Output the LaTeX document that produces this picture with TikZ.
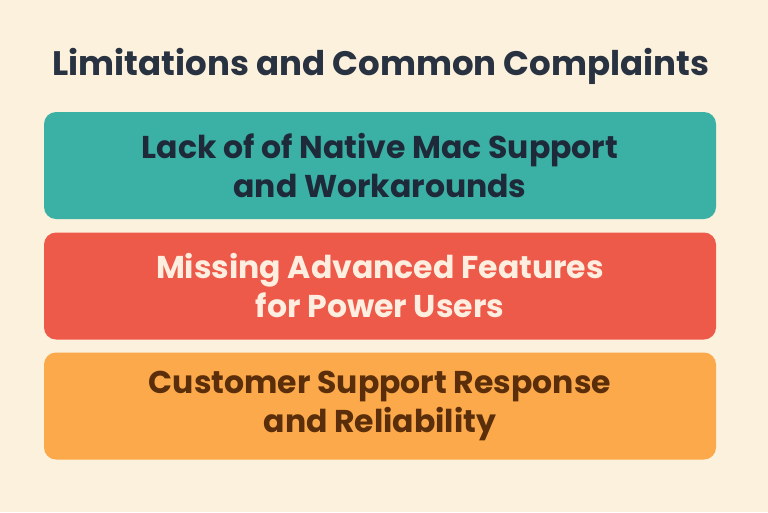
\documentclass[tikz,border=0pt]{standalone}
\usepackage{fontspec}
\setmainfont{Poppins}
\usetikzlibrary{positioning}
\definecolor{bgcream}{HTML}{FCF1DC}
\definecolor{teal}{HTML}{3BB0A5}
\definecolor{coral}{HTML}{EE5A4A}
\definecolor{amber}{HTML}{FBA94A}
\definecolor{navy}{HTML}{1E2A3A}
\definecolor{brown}{HTML}{5A2E0A}
\definecolor{cream}{HTML}{FDEEE0}
\tikzset{
  band/.style={rounded corners=12pt, minimum width=672pt, minimum height=107pt,
    align=center, font=\fontsize{31.5}{39}\selectfont\bfseries, inner sep=0pt}
}
\begin{document}
\begin{tikzpicture}[x=1pt,y=-1pt]
\path[fill=bgcream] (0,0) rectangle (768,512);
\useasboundingbox (0,0) rectangle (768,512);

% title
\node[text=navy!90!gray, font=\fontsize{34}{40}\selectfont\bfseries] (title) at (381,66) {Limitations and Common Complaints};

% bands
\node[band, fill=teal, text=navy] (mac) at (380,165.5) {Lack of of Native Mac Support\\and Workarounds};
\node[band, fill=coral, text=cream] (power) at (380,286) {Missing Advanced Features\\for Power Users};
\node[band, fill=amber, text=brown] (support) at (380,406) {Customer Support Response\\and Reliability};

\end{tikzpicture}
\end{document}
